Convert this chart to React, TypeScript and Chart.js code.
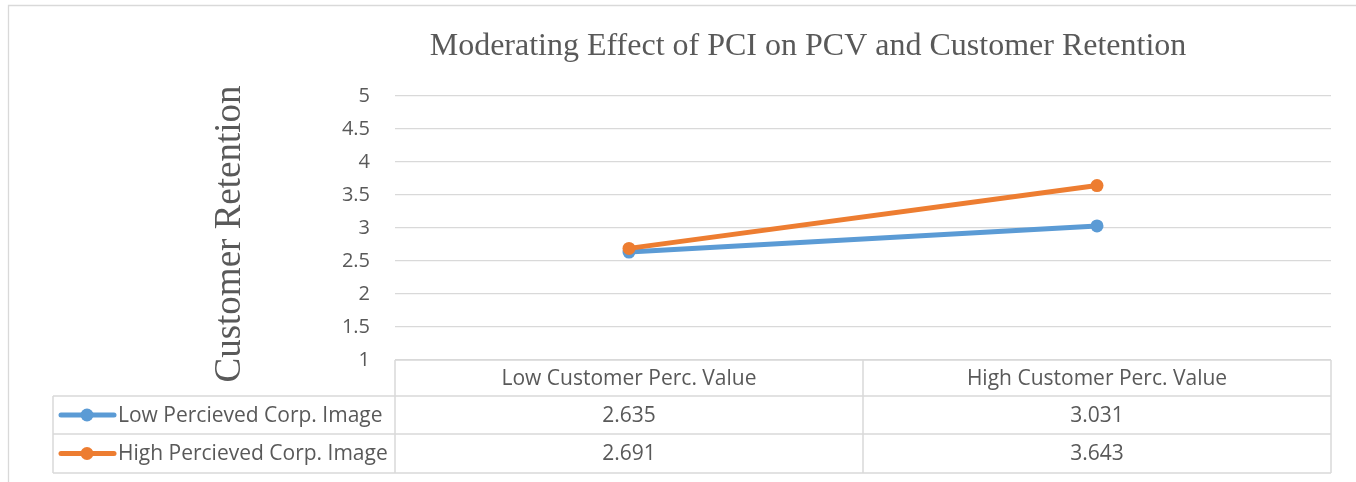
import React, { useEffect, useRef } from "react";
import { Chart, registerables } from "chart.js";

Chart.register(...registerables);

const chartTitle = "Moderating Effect of PCI on PCV and Customer Retention";
const yAxisTitle = "Customer Retention";
const categories = ["Low Customer Perc. Value", "High Customer Perc. Value"];
const seriesNames = ["Low Percieved Corp. Image", "High Percieved Corp. Image"];
const lowPCI = [2.635, 3.031];
const highPCI = [2.691, 3.643];
const seriesColors = ["#5B9BD5", "#ED7D31"];
const yMin = 1;
const yMax = 5;
const yStep = 0.5;

const W = 1356;
const H = 482;
const GRID = "#d9d9d9";
const TEXT = "#595959";
const SANS = "'Open Sans', 'Liberation Sans', sans-serif";
const SERIF = "'Liberation Serif', 'DejaVu Serif', serif";

const decorPlugin = {
  id: "decor",
  beforeDraw(chart: any) {
    const ctx = chart.ctx;
    ctx.save();
    ctx.fillStyle = "#ffffff";
    ctx.fillRect(0, 0, W, H);
    ctx.strokeStyle = GRID;
    ctx.lineWidth = 1.3;
    ctx.beginPath();
    ctx.moveTo(8.5, H);
    ctx.lineTo(8.5, 5.5);
    ctx.lineTo(W, 5.5);
    ctx.stroke();
    ctx.restore();
  },
  afterDraw(chart: any) {
    const ctx = chart.ctx;
    const area = chart.chartArea;
    const xs = chart.scales.x;
    ctx.save();
    // title
    ctx.fillStyle = TEXT;
    ctx.font = `32px ${SERIF}`;
    ctx.textAlign = "center";
    ctx.textBaseline = "alphabetic";
    ctx.fillText(chartTitle, 808, 55);
    // y axis title
    ctx.save();
    ctx.translate(240, 234);
    ctx.rotate(-Math.PI / 2);
    ctx.font = `37px ${SERIF}`;
    ctx.textAlign = "center";
    ctx.fillText(yAxisTitle, 0, 0);
    ctx.restore();

    // data table
    const left = area.left;
    const right = area.right;
    const top = area.bottom;
    const rowH = [36, 38, 39];
    const legendLeft = 53;
    const y0 = top;
    const y1 = y0 + rowH[0];
    const y2 = y1 + rowH[1];
    const y3 = y2 + rowH[2];
    const n = categories.length;
    const colW = (right - left) / n;

    ctx.strokeStyle = GRID;
    ctx.lineWidth = 1.5;
    ctx.beginPath();
    ctx.moveTo(left, y0);
    ctx.lineTo(right, y0);
    [y1, y2, y3].forEach((y) => {
      ctx.moveTo(legendLeft, y);
      ctx.lineTo(right, y);
    });
    ctx.moveTo(legendLeft, y1);
    ctx.lineTo(legendLeft, y3);
    for (let i = 0; i <= n; i++) {
      const x = left + colW * i;
      ctx.moveTo(x, y0);
      ctx.lineTo(x, y3);
    }
    ctx.stroke();

    ctx.fillStyle = TEXT;
    ctx.font = `21px ${SANS}`;
    ctx.textAlign = "center";
    ctx.textBaseline = "middle";
    categories.forEach((c, i) => {
      ctx.fillText(c, xs.getPixelForValue(i), (y0 + y1) / 2 + 1);
    });
    const rows = [lowPCI, highPCI];
    const rowMid = [(y1 + y2) / 2 + 1, (y2 + y3) / 2 + 1];
    rows.forEach((vals, r) => {
      vals.forEach((v, i) => {
        ctx.fillStyle = TEXT;
        ctx.textAlign = "center";
        ctx.fillText(v.toFixed(3), xs.getPixelForValue(i), rowMid[r]);
      });
      // legend key
      const cy = rowMid[r] - 1;
      ctx.strokeStyle = seriesColors[r];
      ctx.lineWidth = 5;
      ctx.lineCap = "round";
      ctx.beginPath();
      ctx.moveTo(61, cy);
      ctx.lineTo(114, cy);
      ctx.stroke();
      ctx.fillStyle = seriesColors[r];
      ctx.beginPath();
      ctx.arc(87, cy, 6.5, 0, Math.PI * 2);
      ctx.fill();
      ctx.fillStyle = TEXT;
      ctx.textAlign = "left";
      ctx.fillText(seriesNames[r], 118, rowMid[r]);
    });
    ctx.restore();
  },
};

export default function App() {
  const ref = useRef<HTMLCanvasElement | null>(null);
  useEffect(() => {
    if (!ref.current) return;
    const chart = new Chart(ref.current, {
      type: "line",
      data: {
        labels: categories,
        datasets: [
          {
            label: seriesNames[0],
            data: lowPCI,
            borderColor: seriesColors[0],
            backgroundColor: seriesColors[0],
            borderWidth: 5,
            pointRadius: 6.5,
            pointBorderWidth: 0,
            order: 1,
          },
          {
            label: seriesNames[1],
            data: highPCI,
            borderColor: seriesColors[1],
            backgroundColor: seriesColors[1],
            borderWidth: 5,
            pointRadius: 6.5,
            pointBorderWidth: 0,
            order: 0,
          },
        ],
      },
      options: {
        responsive: false,
        devicePixelRatio: 1,
        animation: false,
        layout: { padding: { left: 335, right: 25, top: 96, bottom: 122 } },
        plugins: {
          legend: { display: false },
          title: { display: false },
          tooltip: { enabled: false },
        },
        scales: {
          x: {
            type: "category",
            offset: true,
            display: false,
          },
          y: {
            min: yMin,
            max: yMax,
            afterFit: (s: any) => {
              s.width = 60;
            },
            ticks: {
              stepSize: yStep,
              color: TEXT,
              padding: 25,
              font: { family: SANS, size: 20 },
              callback: (v: any) => String(Number(v)),
            },
            grid: { color: GRID, lineWidth: 1.3, drawTicks: false },
            border: { display: false },
          },
        },
      },
      plugins: [decorPlugin],
    });
    return () => chart.destroy();
  }, []);
  return (
    <div style={{ position: "fixed", left: 0, top: 0, width: W, height: H, background: "#fff" }}>
      <canvas ref={ref} width={W} height={H} style={{ width: W, height: H, display: "block" }} />
    </div>
  );
}
